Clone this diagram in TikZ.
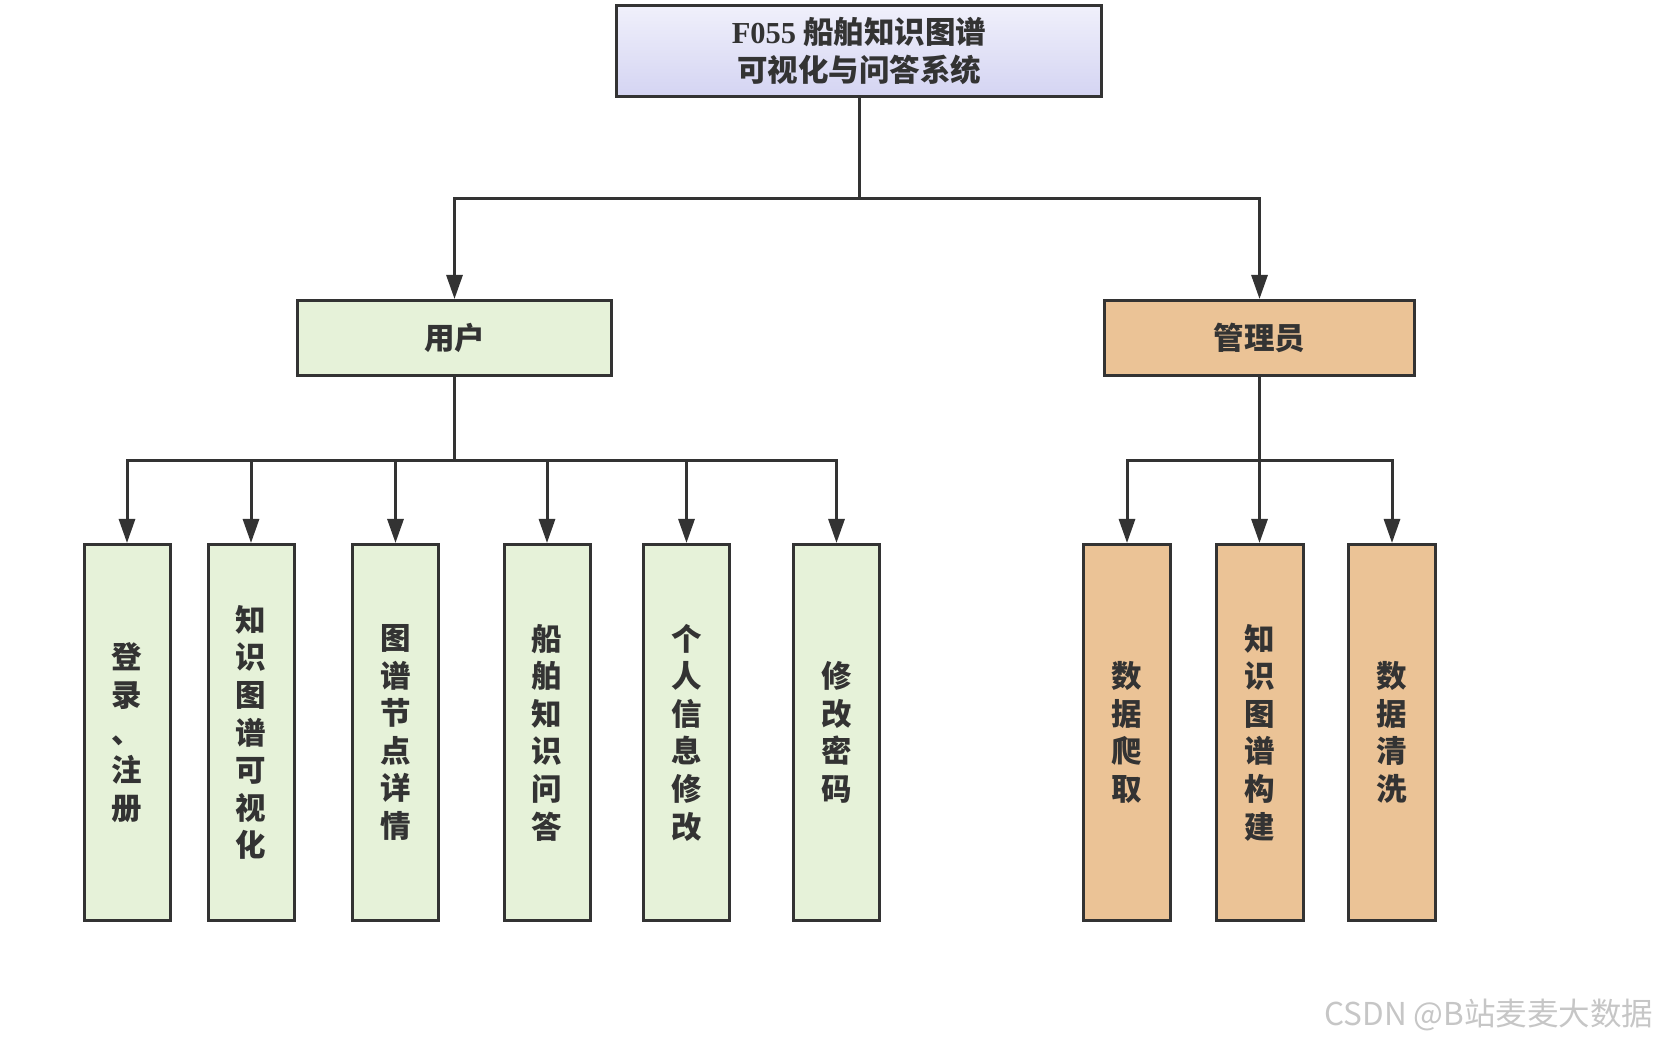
\documentclass[tikz,border=0pt]{standalone}
\usepackage{fontspec}
\setmainfont{Liberation Serif}
\newfontfamily\cjk{Noto Sans CJK SC}
\usetikzlibrary{arrows.meta, positioning}
\definecolor{linegray}{RGB}{51,51,51}
\definecolor{usergreen}{RGB}{230,242,217}
\definecolor{adminorange}{RGB}{235,195,150}
\definecolor{titletop}{RGB}{240,240,251}
\definecolor{titlebottom}{RGB}{212,212,242}

\begin{document}
\begin{tikzpicture}[
  x=1pt, y=1pt,
  every node/.style={font=\cjk\bfseries\fontsize{30.5}{37.6}\selectfont, text=linegray},
  box/.style={
    draw=linegray, line width=3pt, inner sep=0pt, align=center
  },
  titlebox/.style={
    box, top color=titletop, bottom color=titlebottom,
    minimum width=485, minimum height=91
  },
  rolebox/.style={box, minimum height=75},
  leaf/.style={box, minimum height=376, minimum width=86},
  arrow/.style={-{Triangle[length=24pt, width=16pt]}, line width=3pt, draw=linegray},
  credit/.style={font=\cjk\fontsize{31.5}{31.5}\selectfont, text=gray!45}
]
  \useasboundingbox (0,0) rectangle (1662,1046);

  % 系统标题
  \node[titlebox] (sys) at (859,995) {\textrm{F055} 船舶知识图谱\\可视化与问答系统};

  % 角色
  \node[rolebox, fill=usergreen, minimum width=314] (user) at (454.5,708) {用户};
  \node[rolebox, fill=adminorange, minimum width=310] (admin) at (1259.5,708) {管理员};

  % 用户功能
  \node[leaf, fill=usergreen] (login) at (127,313.5) {登\\录\\、\\注\\册};
  \node[leaf, fill=usergreen] (graphvis) at (251,313.5) {知\\识\\图\\谱\\可\\视\\化};
  \node[leaf, fill=usergreen] (nodeinfo) at (395.5,313.5) {图\\谱\\节\\点\\详\\情};
  \node[leaf, fill=usergreen] (shipqa) at (547,313.5) {船\\舶\\知\\识\\问\\答};
  \node[leaf, fill=usergreen] (profile) at (686.5,313.5) {个\\人\\信\\息\\修\\改};
  \node[leaf, fill=usergreen] (passwd) at (836.5,313.5) {修\\改\\密\\码};

  % 管理员功能
  \node[leaf, fill=adminorange, minimum width=87] (crawl) at (1127,313.5) {数\\据\\爬\\取};
  \node[leaf, fill=adminorange, minimum width=87] (kgbuild) at (1259.5,313.5) {知\\识\\图\\谱\\构\\建};
  \node[leaf, fill=adminorange, minimum width=87] (clean) at (1392,313.5) {数\\据\\清\\洗};

  % 连线
  \draw[arrow] (sys.south) -- ++(0,-101) -| (user.north);
  \draw[arrow] (sys.south) -- ++(0,-101) -| (admin.north);

  \foreach \f in {login, graphvis, nodeinfo, shipqa, profile, passwd}
    \draw[arrow] (user.south) -- ++(0,-84) -| (\f.north);

  \foreach \f in {crawl, kgbuild, clean}
    \draw[arrow] (admin.south) -- ++(0,-84) -| (\f.north);

  \node[credit, anchor=east] (csdn) at (1657,31) {CSDN @B站麦麦大数据};

\end{tikzpicture}
\end{document}
